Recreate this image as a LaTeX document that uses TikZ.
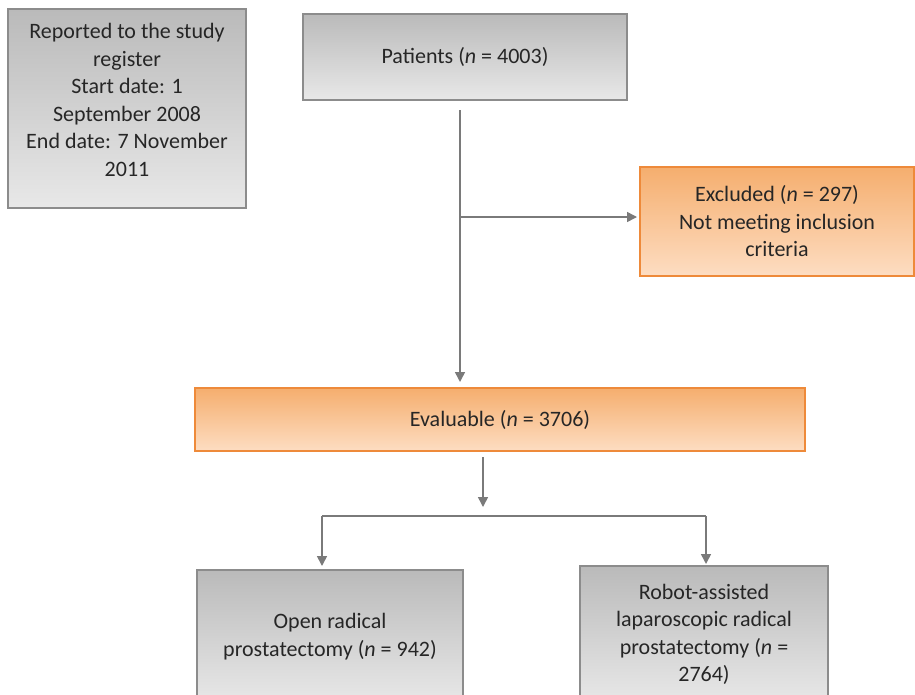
\documentclass[tikz,border=0pt]{standalone}
\usepackage{fontspec}
\setmainfont{Carlito}
\usetikzlibrary{arrows.meta}
\definecolor{lnc}{HTML}{7A7A7A}
\definecolor{gbord}{HTML}{8C8C8C}
\definecolor{gtop}{HTML}{BABABA}
\definecolor{gbot}{HTML}{E8E8E8}
\definecolor{obord}{HTML}{EE8A3A}
\definecolor{otop}{HTML}{F5AE6E}
\definecolor{obot}{HTML}{FDDDC2}
\tikzset{
  gbox/.style={draw=gbord, line width=2pt, top color=gtop, bottom color=gbot,
    rectangle, inner sep=0pt, align=center, text=black!85,
    font=\fontsize{22}{27.5}\selectfont},
  obox/.style={draw=obord, line width=2pt, top color=otop, bottom color=obot,
    rectangle, inner sep=0pt, align=center, text=black!85,
    font=\fontsize{22}{27.5}\selectfont},
  conn/.style={draw=lnc, line width=1.6pt},
  arr/.style={conn, -{Triangle[length=10pt,width=10pt]}}
}
\begin{document}
\begin{tikzpicture}[x=1pt,y=-1pt]
\useasboundingbox (0,0) rectangle (915,694);
\clip (0,0) rectangle (915,694);
\node[gbox, minimum width=238pt, minimum height=199pt] (rep) at (127,108.5) {};
\node[align=center, text=black!85, font=\fontsize{22}{27.6}\selectfont, inner sep=0pt] (reptxt) at (127,100)
  {Reported to the study\\register\\Start date: 1\\September 2008\\End date: 7 November\\2011};
\node[gbox, minimum width=324pt, minimum height=86pt] (pat) at (465,57) {Patients (\textit{n} = 4003)};
\node[obox, minimum width=274pt, minimum height=109pt] (exc) at (777,221.5)
  {Excluded (\textit{n} = 297)\\Not meeting inclusion\\criteria};
\node[obox, minimum width=610pt, minimum height=63pt] (eval) at (500,419.5) {Evaluable (\textit{n} = 3706)};
\node[gbox, minimum width=266pt, minimum height=133pt] (open) at (330,636.5)
  {Open radical\\prostatectomy (\textit{n} = 942)};
\node[gbox, minimum width=248pt, minimum height=137pt] (rob) at (704,634.5)
  {Robot-assisted\\laparoscopic radical\\prostatectomy (\textit{n} =\\2764)};
\coordinate (a1) at (460,110);
\coordinate (b1) at (460,217);
\coordinate (c0) at (483,457);
\coordinate (c1) at (483,507);
\coordinate (sl) at (322,516);
\coordinate (sr) at (706,516);
\draw[arr, shorten >=5pt] (a1) -- (a1 |- eval.north);
\draw[arr, shorten >=2pt] (b1) -- (b1 -| exc.west);
\draw[arr] (c0) -- (c1);
\draw[conn] (sl) -- (sr);
\draw[arr, shorten >=3pt] (sl) -- (sl |- open.north);
\draw[arr, shorten >=1pt] (sr) -- (sr |- rob.north);
\end{tikzpicture}
\end{document}
